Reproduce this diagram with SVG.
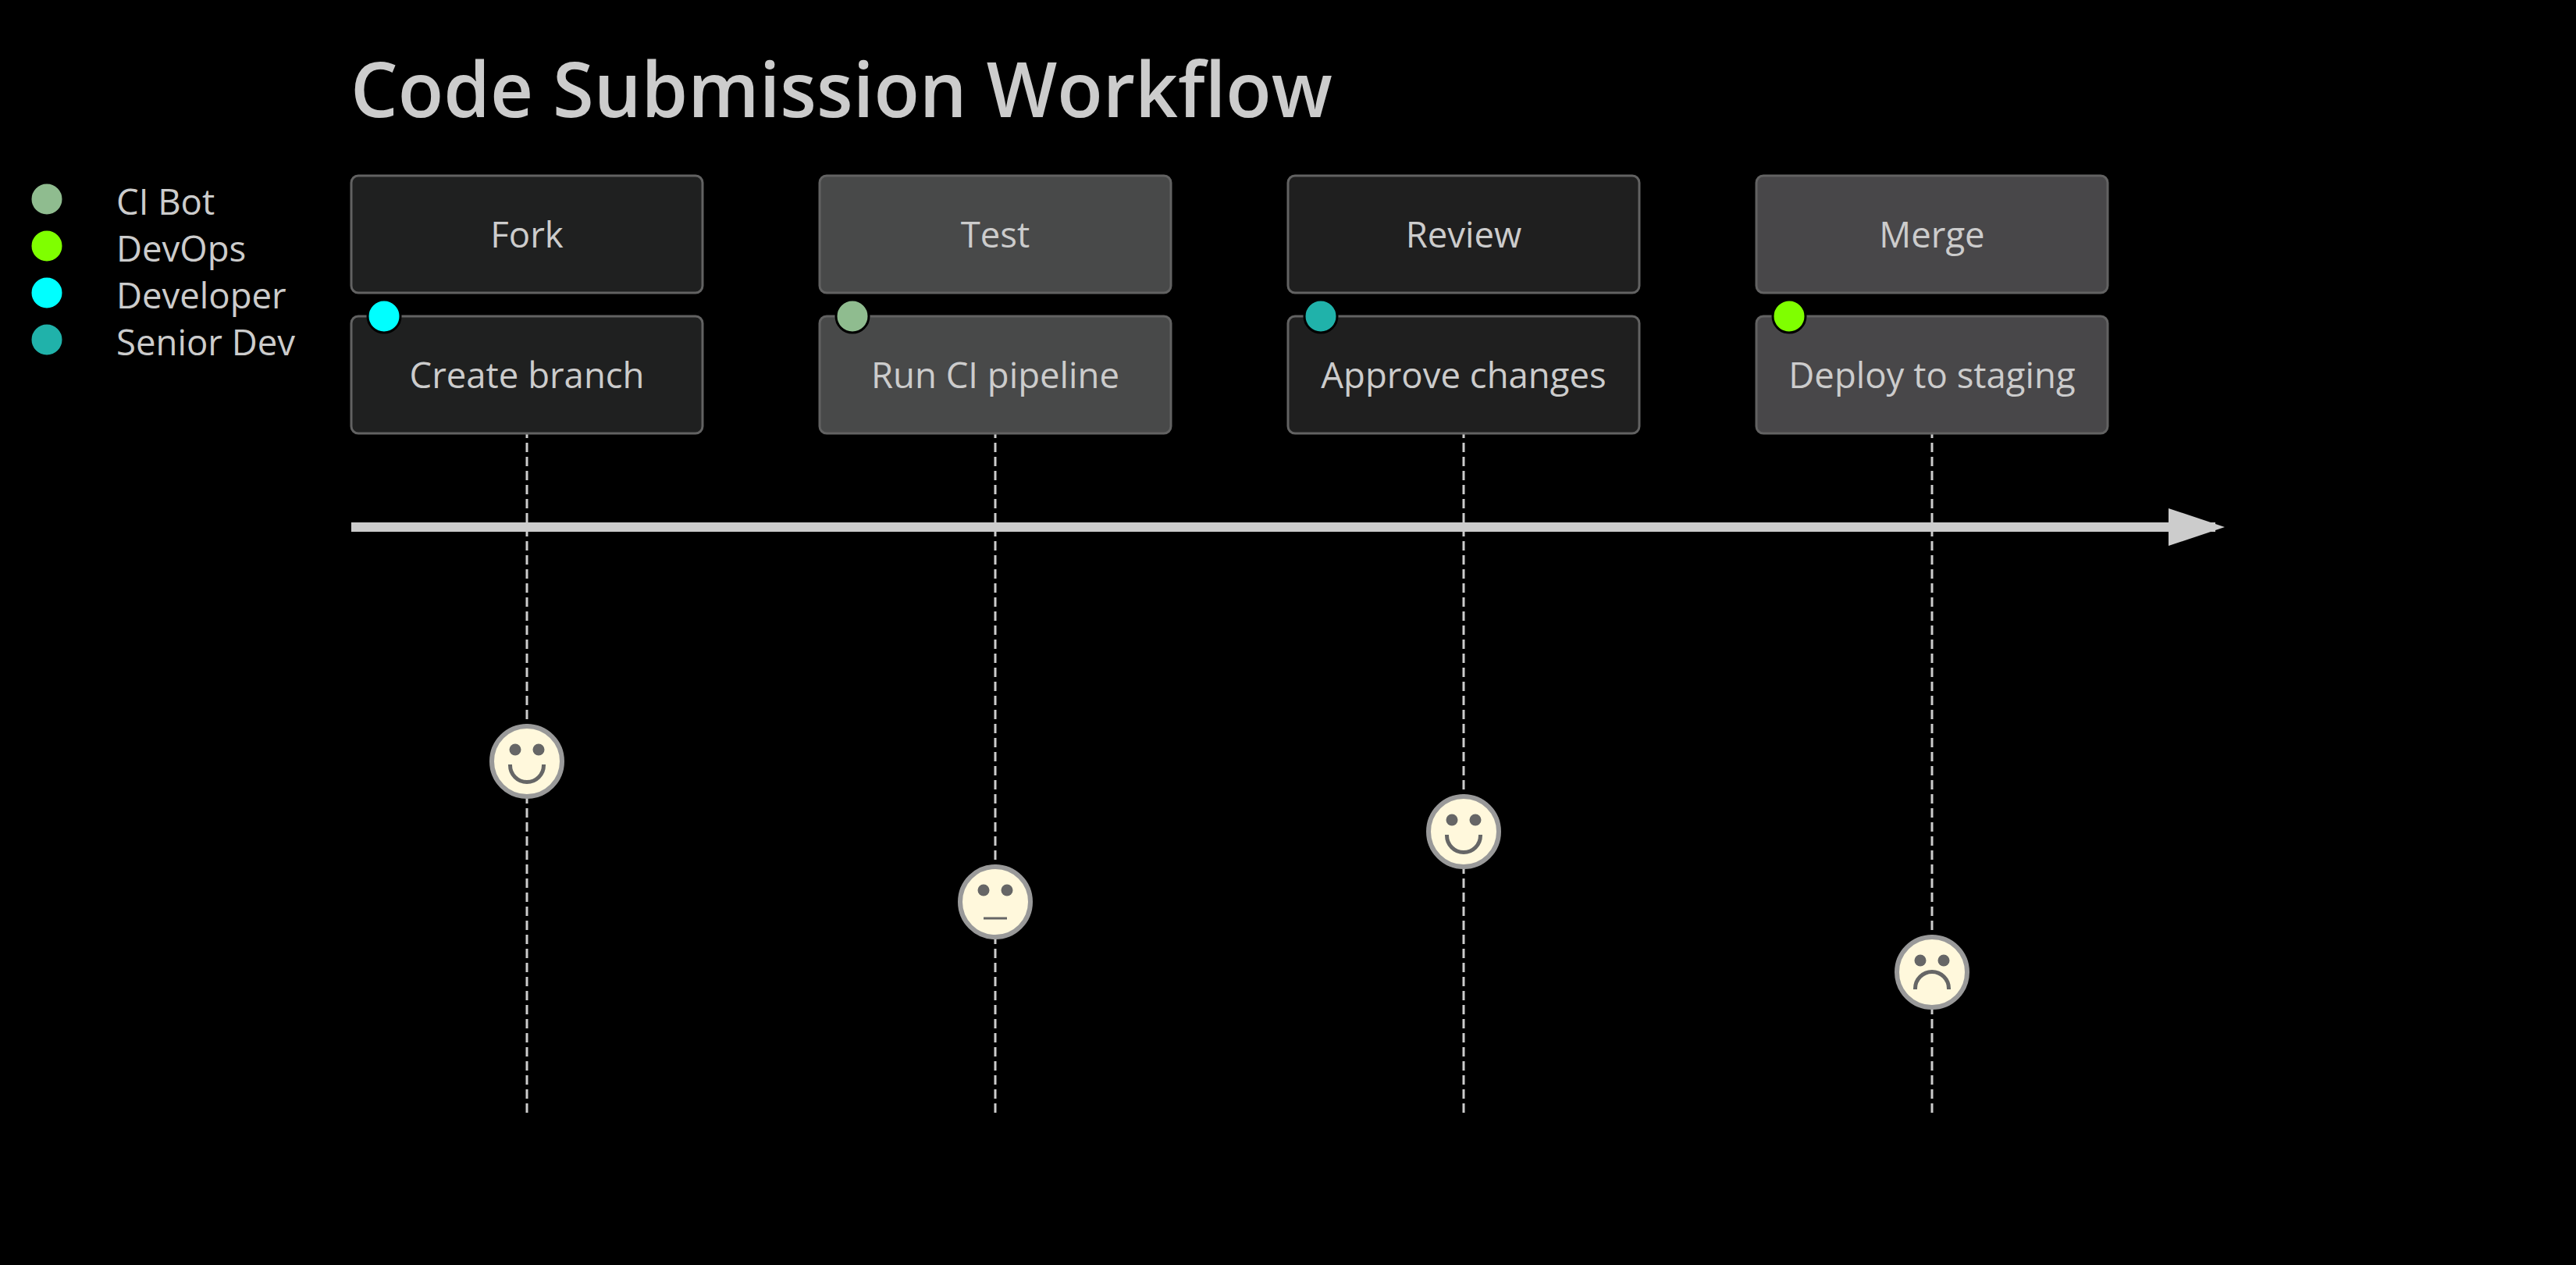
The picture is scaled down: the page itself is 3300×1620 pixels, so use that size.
<svg xmlns="http://www.w3.org/2000/svg" width="3300" height="1620" viewBox="0 0 3300 1620">
<defs>
<marker id="arrow" markerWidth="6" markerHeight="4" refX="5" refY="2" orient="auto"><path d="M0,0 V4 L6,2 Z" fill="#ccc"/></marker>
<g id="eyes"><circle cx="-15" cy="-15" r="7.5"/><circle cx="15" cy="-15" r="7.5"/></g>
</defs>
<style>
text{font-family:"Open Sans","DejaVu Sans",sans-serif;fill:#ccc;font-size:45.5px}
.c{text-anchor:middle}
.t{stroke:#626262;stroke-width:3}
.a{fill:#1f2020}.b{fill:#484949}.r{fill:#1f1f1f}.m{fill:#484749}
.p{stroke:#000;stroke-width:3}
.v{stroke:#ccc;stroke-width:3;stroke-dasharray:12 6}
.face{stroke:#999;stroke-width:6;fill:#fff8dc}
.e{fill:#666}
.mouth{fill:none;stroke:#666;stroke-width:5}
</style>
<rect width="3300" height="1620" fill="#000"/>
<text id="title" x="449" y="150" textLength="1258" lengthAdjust="spacingAndGlyphs" style="font-size:98px;font-weight:650">Code Submission Workflow</text>
<g id="legend">
<circle class="p" cx="60" cy="255" r="21" fill="#8fbc8f"/><text x="149" y="275">CI Bot</text>
<circle class="p" cx="60" cy="315" r="21" fill="#7fff00"/><text x="149" y="335">DevOps</text>
<circle class="p" cx="60" cy="375" r="21" fill="#0ff"/><text x="149" y="395">Developer</text>
<circle class="p" cx="60" cy="435" r="21" fill="#20b2aa"/><text x="149" y="455">Senior Dev</text>
</g>
<g id="connectors">
<line class="v" x1="675" y1="549" x2="675" y2="1425"/>
<line class="v" x1="1275" y1="549" x2="1275" y2="1425"/>
<line class="v" x1="1875" y1="549" x2="1875" y2="1425"/>
<line class="v" x1="2475" y1="549" x2="2475" y2="1425"/>
<line x1="450" y1="675" x2="2838" y2="675" stroke="#ccc" stroke-width="12" marker-end="url(#arrow)"/>
</g>
<g id="section-fork"><rect class="t a" x="450" y="225" width="450" height="150" rx="9"/><text class="c" x="675" y="317">Fork</text></g>
<g id="section-test"><rect class="t b" x="1050" y="225" width="450" height="150" rx="9"/><text class="c" x="1275" y="317">Test</text></g>
<g id="section-review"><rect class="t r" x="1650" y="225" width="450" height="150" rx="9"/><text class="c" x="1875" y="317">Review</text></g>
<g id="section-merge"><rect class="t m" x="2250" y="225" width="450" height="150" rx="9"/><text class="c" x="2475" y="317">Merge</text></g>
<g id="task-create"><rect class="t a" x="450" y="405" width="450" height="150" rx="9"/><circle class="p" cx="492" cy="405" r="21" fill="#0ff"/><text class="c" x="675" y="497">Create branch</text></g>
<g id="task-ci"><rect class="t b" x="1050" y="405" width="450" height="150" rx="9"/><circle class="p" cx="1092" cy="405" r="21" fill="#8fbc8f"/><text class="c" x="1275" y="497">Run CI pipeline</text></g>
<g id="task-approve"><rect class="t r" x="1650" y="405" width="450" height="150" rx="9"/><circle class="p" cx="1692" cy="405" r="21" fill="#20b2aa"/><text class="c" x="1875" y="497">Approve changes</text></g>
<g id="task-deploy"><rect class="t m" x="2250" y="405" width="450" height="150" rx="9"/><circle class="p" cx="2292" cy="405" r="21" fill="#7fff00"/><text class="c" x="2475" y="497">Deploy to staging</text></g>
<g id="face-create" transform="translate(675 975)"><circle class="face" r="45"/><use href="#eyes" class="e"/><path class="mouth" d="M-21.5,4 V5 A21.5,21.5 0 0 0 21.5,5 V4"/></g>
<g id="face-ci" transform="translate(1275 1155)"><circle class="face" r="45"/><use href="#eyes" class="e"/><line x1="-15" y1="21" x2="15" y2="21" stroke="#666" stroke-width="3"/></g>
<g id="face-approve" transform="translate(1875 1065)"><circle class="face" r="45"/><use href="#eyes" class="e"/><path class="mouth" d="M-21.5,4 V5 A21.5,21.5 0 0 0 21.5,5 V4"/></g>
<g id="face-deploy" transform="translate(2475 1245)"><circle class="face" r="45"/><use href="#eyes" class="e"/><path class="mouth" d="M-21.5,22 V21 A21.5,21.5 0 0 1 21.5,21 V22"/></g>
</svg>
